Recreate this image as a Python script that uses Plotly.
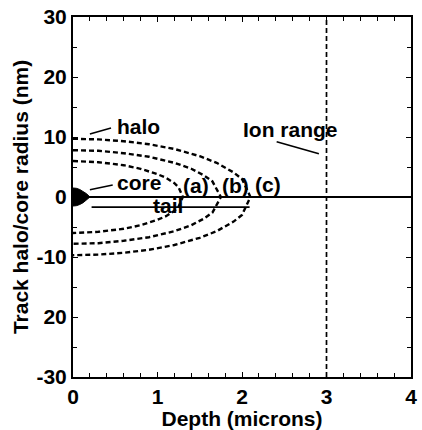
import plotly.graph_objects as go

# ---- data ----
# halo curves (upper half; lower half is the mirror image)
x_a = [0, 0.3, 0.6, 0.8, 1.0, 1.1, 1.2, 1.25, 1.3]
r_a = [6.0, 5.8, 5.3, 4.7, 3.8, 3.2, 2.3, 1.6, 0.0]
x_b = [0, 0.3, 0.6, 0.9, 1.2, 1.4, 1.55, 1.65, 1.75]
r_b = [7.8, 7.7, 7.3, 6.7, 5.7, 4.7, 3.6, 2.6, 0.0]
x_c = [0, 0.3, 0.6, 0.9, 1.2, 1.5, 1.7, 1.9, 2.0, 2.1]
r_c = [9.7, 9.6, 9.3, 8.8, 8.0, 6.8, 5.7, 4.1, 3.0, 0.0]

# core (upper half)
x_core = [0, 0.04, 0.08, 0.12, 0.16, 0.2]
r_core = [1.5, 1.45, 1.25, 0.95, 0.55, 0.0]

# tail line
tail_x = [0.22, 2.09]
tail_y = [-1.7, -1.7]

# zero line
zero_x = [0, 4]
zero_y = [0, 0]

# ion range
ion_range = 3.0
y_span = [-30, 30]

x_ticks = [0, 1, 2, 3, 4]
x_ticktext = ["0", "1", "2", "3", "4"]
y_ticks = [-30, -20, -10, 0, 10, 20, 30]
y_ticktext = ["-30", "20", "-10", "0", "10", "20", "30"]

FONT = "Liberation Sans"
FS = 21

fig = go.Figure()


def mirrored(xs, rs):
    xx = list(xs) + list(reversed(xs))[1:]
    yy = list(rs) + [-v for v in reversed(rs)][1:]
    return xx, yy


for xs, rs in [(x_a, r_a), (x_b, r_b), (x_c, r_c)]:
    xx, yy = mirrored(xs, rs)
    fig.add_trace(go.Scatter(x=xx, y=yy, mode="lines",
                             line=dict(color="black", width=2.4, dash="5px,3px"),
                             hoverinfo="skip", showlegend=False))

fig.add_trace(go.Scatter(x=zero_x, y=zero_y, mode="lines",
                         line=dict(color="black", width=2),
                         hoverinfo="skip", showlegend=False))

cx, cy = mirrored(x_core, r_core)
fig.add_trace(go.Scatter(x=cx, y=cy, mode="lines", fill="toself",
                         fillcolor="black", line=dict(color="black", width=1),
                         hoverinfo="skip", showlegend=False))

fig.add_trace(go.Scatter(x=tail_x, y=tail_y, mode="lines",
                         line=dict(color="black", width=1.8),
                         hoverinfo="skip", showlegend=False))

fig.add_trace(go.Scatter(x=[ion_range, ion_range], y=y_span, mode="lines",
                         line=dict(color="black", width=1.7, dash="5px,3px"),
                         hoverinfo="skip", showlegend=False))

pointer_lines = [
    ([0.2, 0.45], [10.5, 11.5]),
    ([0.2, 0.47], [1.2, 2.0]),
    ([2.41, 2.91], [9.2, 7.2]),
]
for px, py in pointer_lines:
    fig.add_trace(go.Scatter(x=px, y=py, mode="lines",
                             line=dict(color="black", width=1.6),
                             hoverinfo="skip", showlegend=False))

labels = [
    ("halo", 0.5, 11.8, "left"),
    ("core", 0.5, 2.5, "left"),
    ("tail", 1.13, -1.4, "center"),
    ("(a)", 1.46, 1.9, "center"),
    ("(b)", 1.92, 1.9, "center"),
    ("(c)", 2.31, 2.1, "center"),
    ("Ion range", 2.57, 11.3, "center"),
]
for txt, lx, ly, anc in labels:
    fig.add_annotation(x=lx, y=ly, text=txt, showarrow=False, xanchor=anc,
                       yanchor="middle",
                       font=dict(family=FONT, size=FS, color="black", weight="bold"))

axis_common = dict(showgrid=False, zeroline=False, showline=True, linecolor="black",
                   linewidth=2, mirror="ticks", ticks="inside", tickcolor="black",
                   tickwidth=1.2, ticklen=5,
                   tickfont=dict(family=FONT, size=FS, color="black", weight="bold"))

fig.update_xaxes(range=[0, 4], tickvals=x_ticks, ticktext=x_ticktext,
                 minor=dict(dtick=0.2, ticks="inside", ticklen=4, tickcolor="black",
                            tickwidth=1.2),
                 title=dict(text="Depth (microns)", standoff=0,
                            font=dict(family=FONT, size=FS, color="black", weight="bold")),
                 **axis_common)
fig.update_yaxes(range=[-30, 30], tickvals=y_ticks, ticktext=y_ticktext,
                 minor=dict(dtick=5, tick0=0, ticks="inside", ticklen=4, tickcolor="black",
                            tickwidth=1.2),
                 title=dict(text="Track halo/core radius (nm)", standoff=2,
                            font=dict(family=FONT, size=FS, color="black", weight="bold")),
                 **axis_common)

fig.update_layout(width=422, height=430, margin=dict(l=73, r=5, t=15, b=53),
                  plot_bgcolor="white", paper_bgcolor="white", showlegend=False)

fig.write_html("out.html")
